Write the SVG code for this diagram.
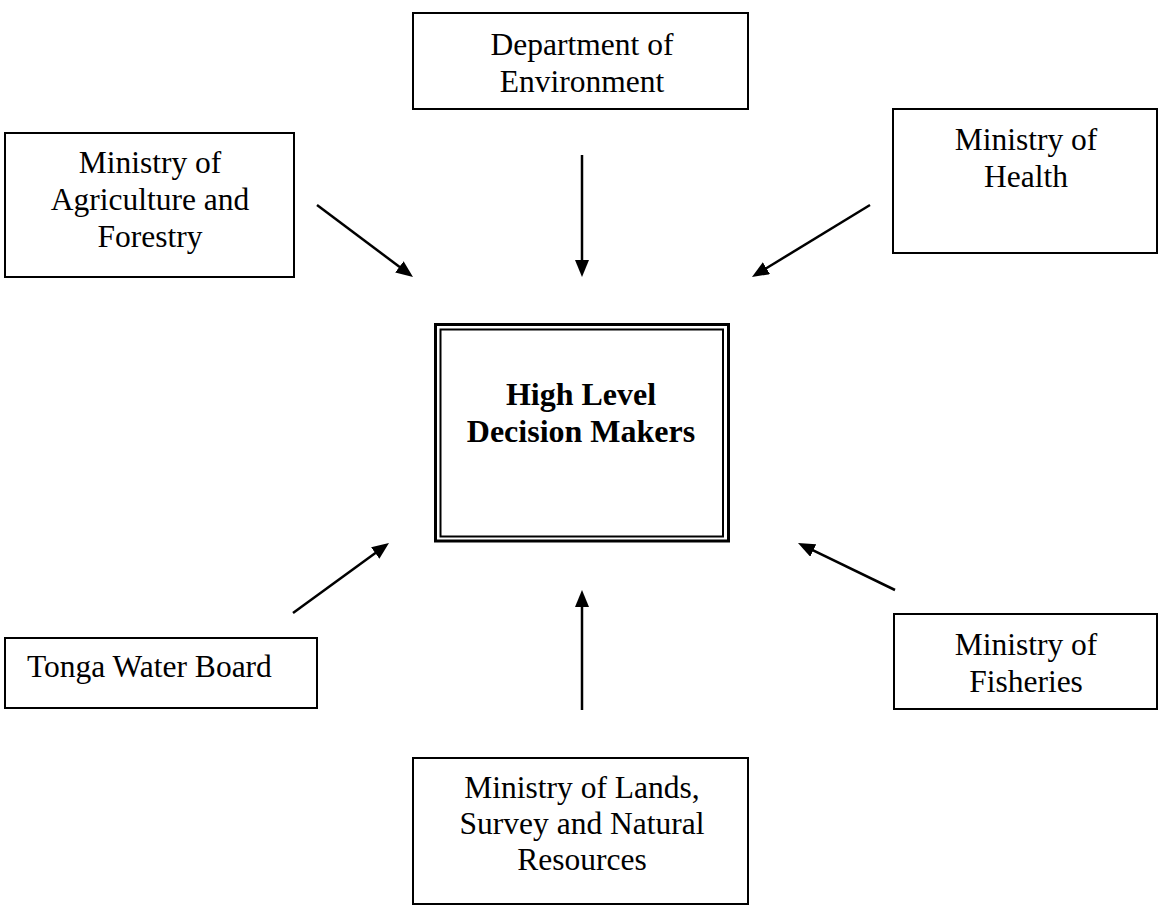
<svg xmlns="http://www.w3.org/2000/svg" width="1159" height="909" viewBox="0 0 1159 909">
<style>
.box{fill:#fff;stroke:#000;stroke-width:2}
.t{font-family:"Liberation Serif","Times New Roman",serif;font-size:31.5px;fill:#000;text-anchor:middle}
.b{font-family:"Liberation Serif","Times New Roman",serif;font-size:32px;font-weight:bold;fill:#000;text-anchor:middle}
.c{stroke:#000;stroke-width:2.5;fill:none;marker-end:url(#ah)}
</style>
<defs>
<marker id="ah" markerUnits="userSpaceOnUse" markerWidth="18" markerHeight="14" refX="7" refY="7" orient="auto">
<path d="M0,0 L17,7 L0,14 z" fill="#000"/>
</marker>
</defs>
<rect width="1159" height="909" fill="#fff"/>
<g id="connectors">
<line class="c" x1="582" y1="155" x2="582" y2="267"/>
<line class="c" x1="317" y1="205" x2="405" y2="271"/>
<line class="c" x1="870" y1="205" x2="760.5" y2="271.8"/>
<line class="c" x1="293" y1="613" x2="380.9" y2="548.9"/>
<line class="c" x1="895" y1="590" x2="807" y2="547.4"/>
<line class="c" x1="582" y1="710" x2="582" y2="600"/>
</g>
<g id="dept-env">
<rect class="box" x="413" y="13" width="335" height="96"/>
<text class="t" x="582" y="55">Department of</text>
<text class="t" x="582" y="92">Environment</text>
</g>
<g id="agriculture">
<rect class="box" x="5" y="133" width="289" height="144"/>
<text class="t" x="150" y="173">Ministry of</text>
<text class="t" x="150" y="210">Agriculture and</text>
<text class="t" x="150" y="247">Forestry</text>
</g>
<g id="health">
<rect class="box" x="893" y="109" width="264" height="144"/>
<text class="t" x="1026" y="150">Ministry of</text>
<text class="t" x="1026" y="187">Health</text>
</g>
<g id="high-level">
<rect x="435.5" y="324.5" width="293" height="216.5" fill="#fff" stroke="#000" stroke-width="3"/>
<rect x="440.5" y="329.5" width="282.5" height="207" fill="none" stroke="#000" stroke-width="2"/>
<text class="b" x="581" y="405">High Level</text>
<text class="b" x="581" y="442">Decision Makers</text>
</g>
<g id="tonga-water">
<rect class="box" x="5" y="638" width="312" height="70"/>
<text class="t" x="27" y="677" style="text-anchor:start">Tonga Water Board</text>
</g>
<g id="fisheries">
<rect class="box" x="894" y="614" width="263" height="95"/>
<text class="t" x="1026" y="655">Ministry of</text>
<text class="t" x="1026" y="692">Fisheries</text>
</g>
<g id="lands">
<rect class="box" x="413" y="758" width="335" height="146"/>
<text class="t" x="582" y="798">Ministry of Lands,</text>
<text class="t" x="582" y="834">Survey and Natural</text>
<text class="t" x="582" y="870">Resources</text>
</g>
</svg>
